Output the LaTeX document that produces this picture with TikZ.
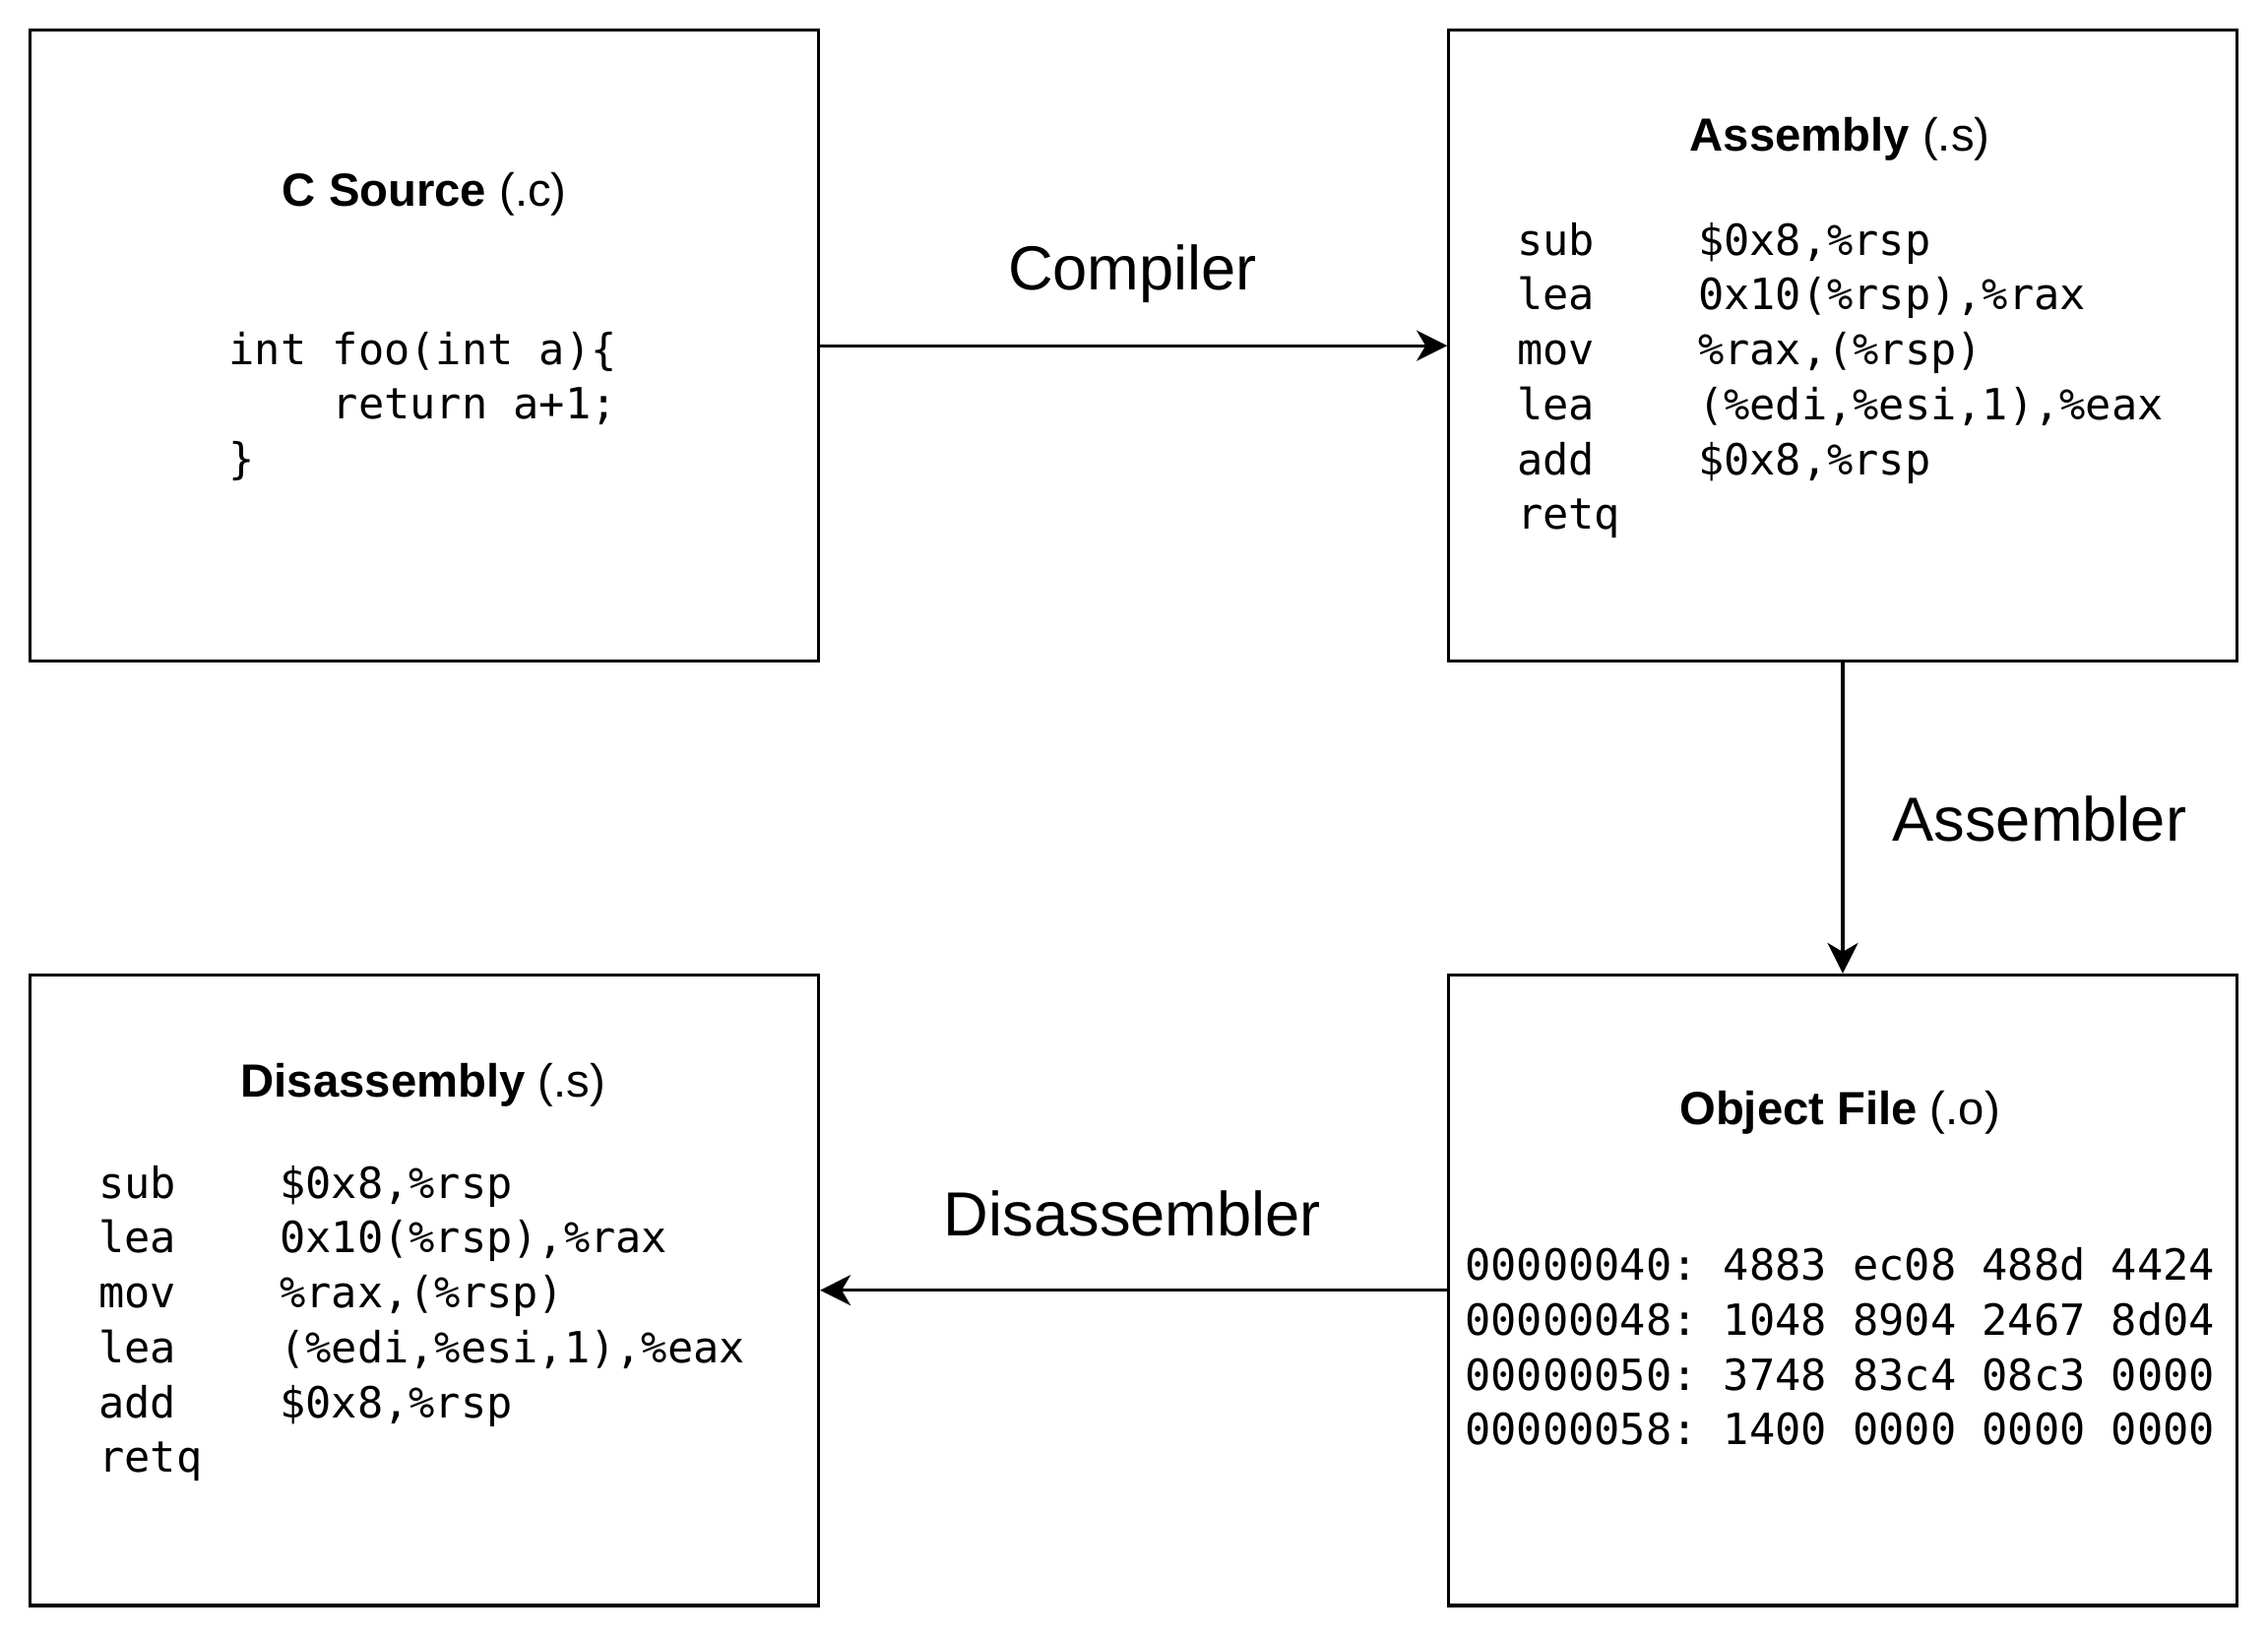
\documentclass[tikz,border=0pt]{standalone}
\usepackage{fontspec}
\setmainfont{Liberation Sans}
\setmonofont{DejaVu Sans Mono}
\usetikzlibrary{calc}
\usetikzlibrary{arrows.meta}

% mnemonic padded to seven characters, then the operands
\newcommand{\asmln}[2]{\makebox[4.214em][l]{#1}#2}

\begin{document}
\begin{tikzpicture}[x=0.02cm, y=-0.02cm,
	filebox/.style={rectangle, draw=black, line width=1.2pt, minimum width=10.9cm, minimum height=8.72cm, inner sep=0pt},
	boxtitle/.style={font=\fontsize{18.3}{22}\selectfont},
	codetext/.style={anchor=west, inner sep=0pt, align=left, font=\ttfamily\fontsize{16.9}{21.6}\selectfont},
	steplabel/.style={font=\fontsize{24.5}{29}\selectfont},
	flow/.style={draw=black, line width=1.2pt, -{Stealth[length=12pt, width=12pt, inset=3.5pt]}}
]

		\useasboundingbox (0,0) rectangle (1568,1132);

		\def \colx{293.5}
		\def \colxx{1274}
		\def \rowy{239}
		\def \rowyy{892}

		% the four files
		\node[filebox] (csrc) at (\colx, \rowy) {};
		\node[filebox] (asm) at (\colxx, \rowy) {};
		\node[filebox] (obj) at (\colxx, \rowyy) {};
		\node[filebox] (disasm) at (\colx, \rowyy) {};

		% titles
		\node[boxtitle] (csrctitle) at ($(csrc.north)+(0,114)$) {\textbf{C Source} (.c)};
		\node[boxtitle] (asmtitle) at ($(asm.north)+(-2,76)$) {\textbf{Assembly} (.s)};
		\node[boxtitle] (objtitle) at ($(obj.north)+(-2,96)$) {\textbf{Object File} (.o)};
		\node[boxtitle] (disasmtitle) at ($(disasm.north)+(-1,77)$) {\textbf{Disassembly} (.s)};

		% contents
		\coordinate (csrccode) at ($(csrc.north west)+(138,261)$);
		\node[codetext] (csrctext) at (csrccode) {int foo(int a)\{\\\hspace*{2.408em}return a+1;\\\}};

		\coordinate (asmcode) at ($(asm.north west)+(48,243)$);
		\node[codetext] (asmtext) at (asmcode) {\asmln{sub}{\$0x8,\%rsp}\\\asmln{lea}{0x10(\%rsp),\%rax}\\\asmln{mov}{\%rax,(\%rsp)}\\\asmln{lea}{(\%edi,\%esi,1),\%eax}\\\asmln{add}{\$0x8,\%rsp}\\retq};

		\coordinate (objcode) at ($(obj.north west)+(12,258)$);
		\node[codetext] (objtext) at (objcode) {00000040: 4883 ec08 488d 4424\\00000048: 1048 8904 2467 8d04\\00000050: 3748 83c4 08c3 0000\\00000058: 1400 0000 0000 0000};

		\coordinate (disasmcode) at ($(disasm.north west)+(48,242)$);
		\node[codetext] (disasmtext) at (disasmcode) {\asmln{sub}{\$0x8,\%rsp}\\\asmln{lea}{0x10(\%rsp),\%rax}\\\asmln{mov}{\%rax,(\%rsp)}\\\asmln{lea}{(\%edi,\%esi,1),\%eax}\\\asmln{add}{\$0x8,\%rsp}\\retq};

		% tools
		\draw[flow] (csrc) -- (asm);
		\draw[flow] (asm) -- (obj);
		\draw[flow] (obj) -- (disasm);

		\node[steplabel] (complbl) at (783,189) {Compiler};
		\node[steplabel] (asmlbl) at (1410,566) {Assembler};
		\node[steplabel] (dislbl) at (783,839) {Disassembler};

	\end{tikzpicture}
\end{document}
